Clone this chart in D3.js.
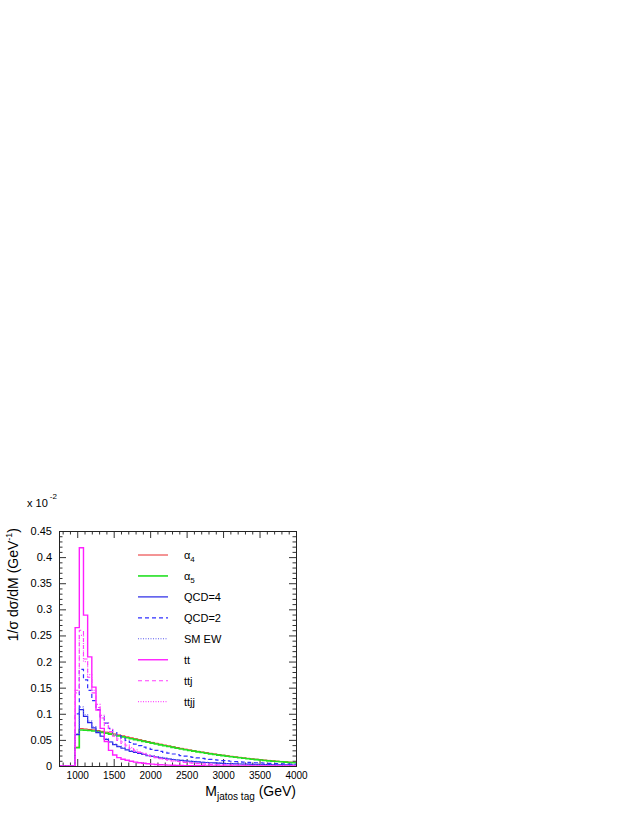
<!DOCTYPE html>
<html>
<head>
<meta charset="utf-8">
<script src="https://cdn.jsdelivr.net/npm/d3@7"></script>
<style>
  body { margin: 0; background: #fff; }
  svg { display: block; font-family: "Liberation Sans", Arial, sans-serif; }
</style>
</head>
<body>
<div id="chart"></div>
<script>
const W = 638, H = 825;
const plot = { left: 59, right: 296, top: 531, bottom: 766 };

// histogram: 70 bins over 0..4000 GeV, first filled bin starts at 971.4
const nBins = 70, histMax = 4000, firstBin = 17;
const xDomain = [750, 4000];
const yDomain = [0, 0.45];

const xTickLabels = ["1000", "1500", "2000", "2500", "3000", "3500", "4000"];
const yTickLabels = ["0", "0.05", "0.1", "0.15", "0.2", "0.25", "0.3", "0.35", "0.4", "0.45"];

// normalised distributions (x 10^-2), one value per bin from bin 17 to bin 69
const alpha4 = [0.036, 0.0715, 0.0708, 0.0700, 0.0690, 0.0678, 0.0664, 0.0648, 0.0631, 0.0613,
  0.0595, 0.0577, 0.0558, 0.0540, 0.0522, 0.0504, 0.0487, 0.0469, 0.0452, 0.0435,
  0.0418, 0.0401, 0.0385, 0.0369, 0.0353, 0.0338, 0.0323, 0.0308, 0.0294, 0.0281,
  0.0268, 0.0255, 0.0243, 0.0231, 0.0219, 0.0208, 0.0197, 0.0186, 0.0176, 0.0166,
  0.0156, 0.0147, 0.0138, 0.0130, 0.0122, 0.0114, 0.0107, 0.0100, 0.0093, 0.0087,
  0.0081, 0.0075, 0.0069];
const alpha5 = [0.035, 0.0690, 0.0686, 0.0679, 0.0670, 0.0658, 0.0644, 0.0628, 0.0611, 0.0594,
  0.0576, 0.0558, 0.0540, 0.0522, 0.0505, 0.0488, 0.0471, 0.0455, 0.0438, 0.0421,
  0.0404, 0.0388, 0.0372, 0.0356, 0.0341, 0.0326, 0.0312, 0.0298, 0.0284, 0.0271,
  0.0258, 0.0245, 0.0233, 0.0221, 0.0209, 0.0198, 0.0187, 0.0177, 0.0167, 0.0157,
  0.0148, 0.0139, 0.0130, 0.0122, 0.0114, 0.0106, 0.0099, 0.0092, 0.0086, 0.0080,
  0.0074, 0.0068, 0.0063];
const qcd4 = [0.060, 0.108, 0.095, 0.083, 0.073, 0.064, 0.057, 0.051, 0.046, 0.041,
  0.037, 0.034, 0.031, 0.028, 0.026, 0.024, 0.022, 0.020, 0.0185, 0.0170,
  0.0157, 0.0145, 0.0134, 0.0124, 0.0115, 0.0106, 0.0098, 0.0091, 0.0084, 0.0078,
  0.0072, 0.0067, 0.0062, 0.0058, 0.0054, 0.0050, 0.0047, 0.0044, 0.0041, 0.0038,
  0.0036, 0.0034, 0.0032, 0.0030, 0.0028, 0.0027, 0.0025, 0.0024, 0.0023, 0.0022,
  0.0021, 0.0020, 0.0019];
const qcd2 = [0.100, 0.185, 0.165, 0.145, 0.125, 0.108, 0.094, 0.082, 0.072, 0.064,
  0.058, 0.053, 0.049, 0.045, 0.042, 0.039, 0.036, 0.034, 0.032, 0.030,
  0.028, 0.026, 0.0245, 0.0230, 0.0215, 0.0200, 0.0188, 0.0176, 0.0165, 0.0155,
  0.0145, 0.0136, 0.0127, 0.0119, 0.0111, 0.0104, 0.0097, 0.0091, 0.0085, 0.0080,
  0.0075, 0.0070, 0.0066, 0.0062, 0.0058, 0.0054, 0.0051, 0.0048, 0.0045, 0.0042,
  0.0040, 0.0037, 0.0035];
const smew = [0.062, 0.113, 0.098, 0.086, 0.075, 0.066, 0.058, 0.052, 0.047, 0.042,
  0.038, 0.035, 0.032, 0.029, 0.027, 0.025, 0.023, 0.021, 0.0195, 0.0180,
  0.0166, 0.0153, 0.0141, 0.0130, 0.0120, 0.0111, 0.0103, 0.0095, 0.0088, 0.0082,
  0.0076, 0.0070, 0.0065, 0.0061, 0.0057, 0.0053, 0.0049, 0.0046, 0.0043, 0.0040,
  0.0038, 0.0035, 0.0033, 0.0031, 0.0029, 0.0028, 0.0026, 0.0025, 0.0024, 0.0023,
  0.0022, 0.0021, 0.0020];
const tt = [0.265, 0.418, 0.289, 0.209, 0.151, 0.107, 0.072, 0.047, 0.030, 0.021,
  0.016, 0.013, 0.011, 0.009, 0.0075, 0.0062, 0.0052, 0.0043, 0.0036, 0.0030,
  0.0025, 0.0021, 0.0017, 0.0014, 0.0012, 0.0010, 0.0008, 0.0007, 0.0006, 0.0005,
  0.0004, 0.0003, 0.0003, 0.0002, 0.0002, 0.0002, 0.0001, 0.0001, 0.0001, 0.0001,
  0, 0, 0, 0, 0, 0, 0, 0, 0, 0,
  0, 0, 0];
const ttj = [0.145, 0.260, 0.205, 0.170, 0.140, 0.112, 0.092, 0.077, 0.066, 0.057,
  0.049, 0.043, 0.038, 0.033, 0.029, 0.026, 0.023, 0.020, 0.018, 0.016,
  0.014, 0.0125, 0.0110, 0.0097, 0.0086, 0.0076, 0.0067, 0.0059, 0.0052, 0.0046,
  0.0041, 0.0036, 0.0032, 0.0028, 0.0025, 0.0022, 0.0020, 0.0018, 0.0016, 0.0014,
  0.0013, 0.0012, 0.0011, 0.0010, 0.0009, 0.0008, 0.0007, 0.0007, 0.0006, 0.0006,
  0.0005, 0.0005, 0.0004];
const ttjj = [0.140, 0.250, 0.200, 0.175, 0.145, 0.118, 0.097, 0.082, 0.070, 0.060,
  0.052, 0.046, 0.040, 0.035, 0.031, 0.027, 0.024, 0.021, 0.019, 0.017,
  0.015, 0.0135, 0.0120, 0.0106, 0.0094, 0.0083, 0.0074, 0.0066, 0.0058, 0.0052,
  0.0046, 0.0041, 0.0036, 0.0032, 0.0029, 0.0026, 0.0023, 0.0021, 0.0019, 0.0017,
  0.0015, 0.0014, 0.0013, 0.0012, 0.0011, 0.0010, 0.0009, 0.0008, 0.0008, 0.0007,
  0.0006, 0.0006, 0.0005];

const series = [
  { label: "α", sub: "4", values: alpha4, color: "#e8282a", width: 1, dash: null },
  { label: "α", sub: "5", values: alpha5, color: "#22e022", width: 1.6, dash: null },
  { label: "QCD=4", values: qcd4, color: "#2424e6", width: 1.2, dash: null },
  { label: "QCD=2", values: qcd2, color: "#2f2fff", width: 1.2, dash: "4,3" },
  { label: "SM EW", values: smew, color: "#5a5aee", width: 1.1, dash: "1,1.5" },
  { label: "tt", values: tt, color: "#ff1fff", width: 1.4, dash: null },
  { label: "ttj", values: ttj, color: "#ff3cff", width: 1.1, dash: "4,3" },
  { label: "ttjj", values: ttjj, color: "#ff4cff", width: 1.2, dash: "1,1.5" }
];

const svg = d3.select("#chart").append("svg")
  .attr("width", W)
  .attr("height", H);

const x = d3.scaleLinear().domain(xDomain).range([plot.left, plot.right]);
const y = d3.scaleLinear().domain(yDomain).range([plot.bottom, plot.top]);

svg.append("clipPath").attr("id", "clip")
  .append("rect")
    .attr("x", plot.left).attr("y", plot.top - 2)
    .attr("width", plot.right - plot.left).attr("height", plot.bottom - plot.top + 2);

// minor / major ticks, pointing inward on all four sides
const xMajor = xTickLabels.map(Number);
const xMinor = d3.range(800, 4001, 100).filter(v => v % 500 !== 0);
const yMajor = yTickLabels.map(Number);
const yMinor = d3.range(0, 46).map(i => i / 100).filter(v => Math.round(v * 100) % 5 !== 0);

function styleAxis(g) {
  g.select(".domain").remove();
  g.selectAll(".tick line").attr("stroke", "#333").attr("stroke-width", 1);
  g.selectAll("text").attr("fill", "#000");
}

svg.append("g")
  .attr("transform", `translate(0,${plot.bottom})`)
  .call(d3.axisBottom(x).tickValues(xMajor).tickFormat((d, i) => xTickLabels[i]).tickSize(-7).tickPadding(6))
  .call(styleAxis)
  .selectAll("text").attr("font-size", "10px").attr("font-family", "Liberation Sans, Arial, sans-serif");
svg.append("g")
  .attr("transform", `translate(0,${plot.bottom})`)
  .call(d3.axisBottom(x).tickValues(xMinor).tickFormat("").tickSize(-3.5))
  .call(styleAxis);
svg.append("g")
  .attr("transform", `translate(0,${plot.top})`)
  .call(d3.axisTop(x).tickValues(xMajor).tickFormat("").tickSize(-7))
  .call(styleAxis);
svg.append("g")
  .attr("transform", `translate(0,${plot.top})`)
  .call(d3.axisTop(x).tickValues(xMinor).tickFormat("").tickSize(-3.5))
  .call(styleAxis);

svg.append("g")
  .attr("transform", `translate(${plot.left},0)`)
  .call(d3.axisLeft(y).tickValues(yMajor).tickFormat((d, i) => yTickLabels[i]).tickSize(-7).tickPadding(7))
  .call(styleAxis)
  .selectAll("text").attr("font-size", "11px").attr("font-family", "Liberation Sans, Arial, sans-serif");
svg.append("g")
  .attr("transform", `translate(${plot.left},0)`)
  .call(d3.axisLeft(y).tickValues(yMinor).tickFormat("").tickSize(-3.5))
  .call(styleAxis);
svg.append("g")
  .attr("transform", `translate(${plot.right},0)`)
  .call(d3.axisRight(y).tickValues(yMajor).tickFormat("").tickSize(-7))
  .call(styleAxis);
svg.append("g")
  .attr("transform", `translate(${plot.right},0)`)
  .call(d3.axisRight(y).tickValues(yMinor).tickFormat("").tickSize(-3.5))
  .call(styleAxis);

// histograms drawn as step outlines
const binW = histMax / nBins;
const step = d3.line()
  .x(d => x(d[0]))
  .y(d => y(d[1]))
  .curve(d3.curveStepAfter);

function histPoints(values) {
  const pts = [[xDomain[0], 0]];
  values.forEach((v, i) => pts.push([(firstBin + i) * binW, v]));
  pts.push([histMax, values[values.length - 1]]);
  return pts;
}

svg.append("g")
  .attr("clip-path", "url(#clip)")
  .selectAll("path.hist")
  .data(series)
  .join("path")
    .attr("class", "hist")
    .attr("fill", "none")
    .attr("stroke", d => d.color)
    .attr("stroke-width", d => d.width)
    .attr("stroke-dasharray", d => d.dash)
    .attr("d", d => step(histPoints(d.values)));

// frame
svg.append("rect")
  .attr("x", plot.left + 0.5).attr("y", plot.top + 0.5)
  .attr("width", plot.right - plot.left).attr("height", plot.bottom - plot.top)
  .attr("fill", "none")
  .attr("stroke", "#222")
  .attr("stroke-width", 1);

// legend
const legend = svg.append("g").attr("class", "legend");
const rowY = (d, i) => 555 + i * 20.95;

legend.selectAll("line")
  .data(series)
  .join("line")
    .attr("x1", 138).attr("x2", 168)
    .attr("y1", rowY).attr("y2", rowY)
    .attr("stroke", d => d.color)
    .attr("stroke-width", d => d.width)
    .attr("stroke-dasharray", d => d.dash);

const legendText = legend.selectAll("text")
  .data(series)
  .join("text")
    .attr("x", 184)
    .attr("y", (d, i) => rowY(d, i) + 4)
    .attr("font-size", "11px")
    .attr("fill", "#000");
legendText.append("tspan").text(d => d.label);
legendText.filter(d => d.sub)
  .append("tspan")
    .attr("dy", 3)
    .attr("font-size", "8px")
    .text(d => d.sub);

// axis titles
const xTitle = svg.append("text")
  .attr("x", plot.right)
  .attr("y", 796)
  .attr("text-anchor", "end")
  .attr("font-size", "14px")
  .attr("fill", "#000");
xTitle.append("tspan").text("M");
xTitle.append("tspan").attr("font-size", "10px").attr("dy", 4).text("jatos tag");
xTitle.append("tspan").attr("dy", -4).text(" (GeV)");

const yTitle = svg.append("text")
  .attr("transform", `translate(18,${plot.top - 3}) rotate(-90)`)
  .attr("text-anchor", "end")
  .attr("font-size", "14px")
  .attr("fill", "#000");
yTitle.append("tspan").text("1/σ dσ/dM (GeV");
yTitle.append("tspan").attr("font-size", "9px").attr("dy", -6).text("-1");
yTitle.append("tspan").attr("dy", 6).text(")");

// scale factor
const scaleNote = svg.append("text")
  .attr("x", 27)
  .attr("y", 507)
  .attr("font-size", "11px")
  .attr("fill", "#000");
scaleNote.append("tspan").text("x 10");
scaleNote.append("tspan").attr("font-size", "8px").attr("dx", 2).attr("dy", -8).text("-2");
</script>
</body>
</html>
